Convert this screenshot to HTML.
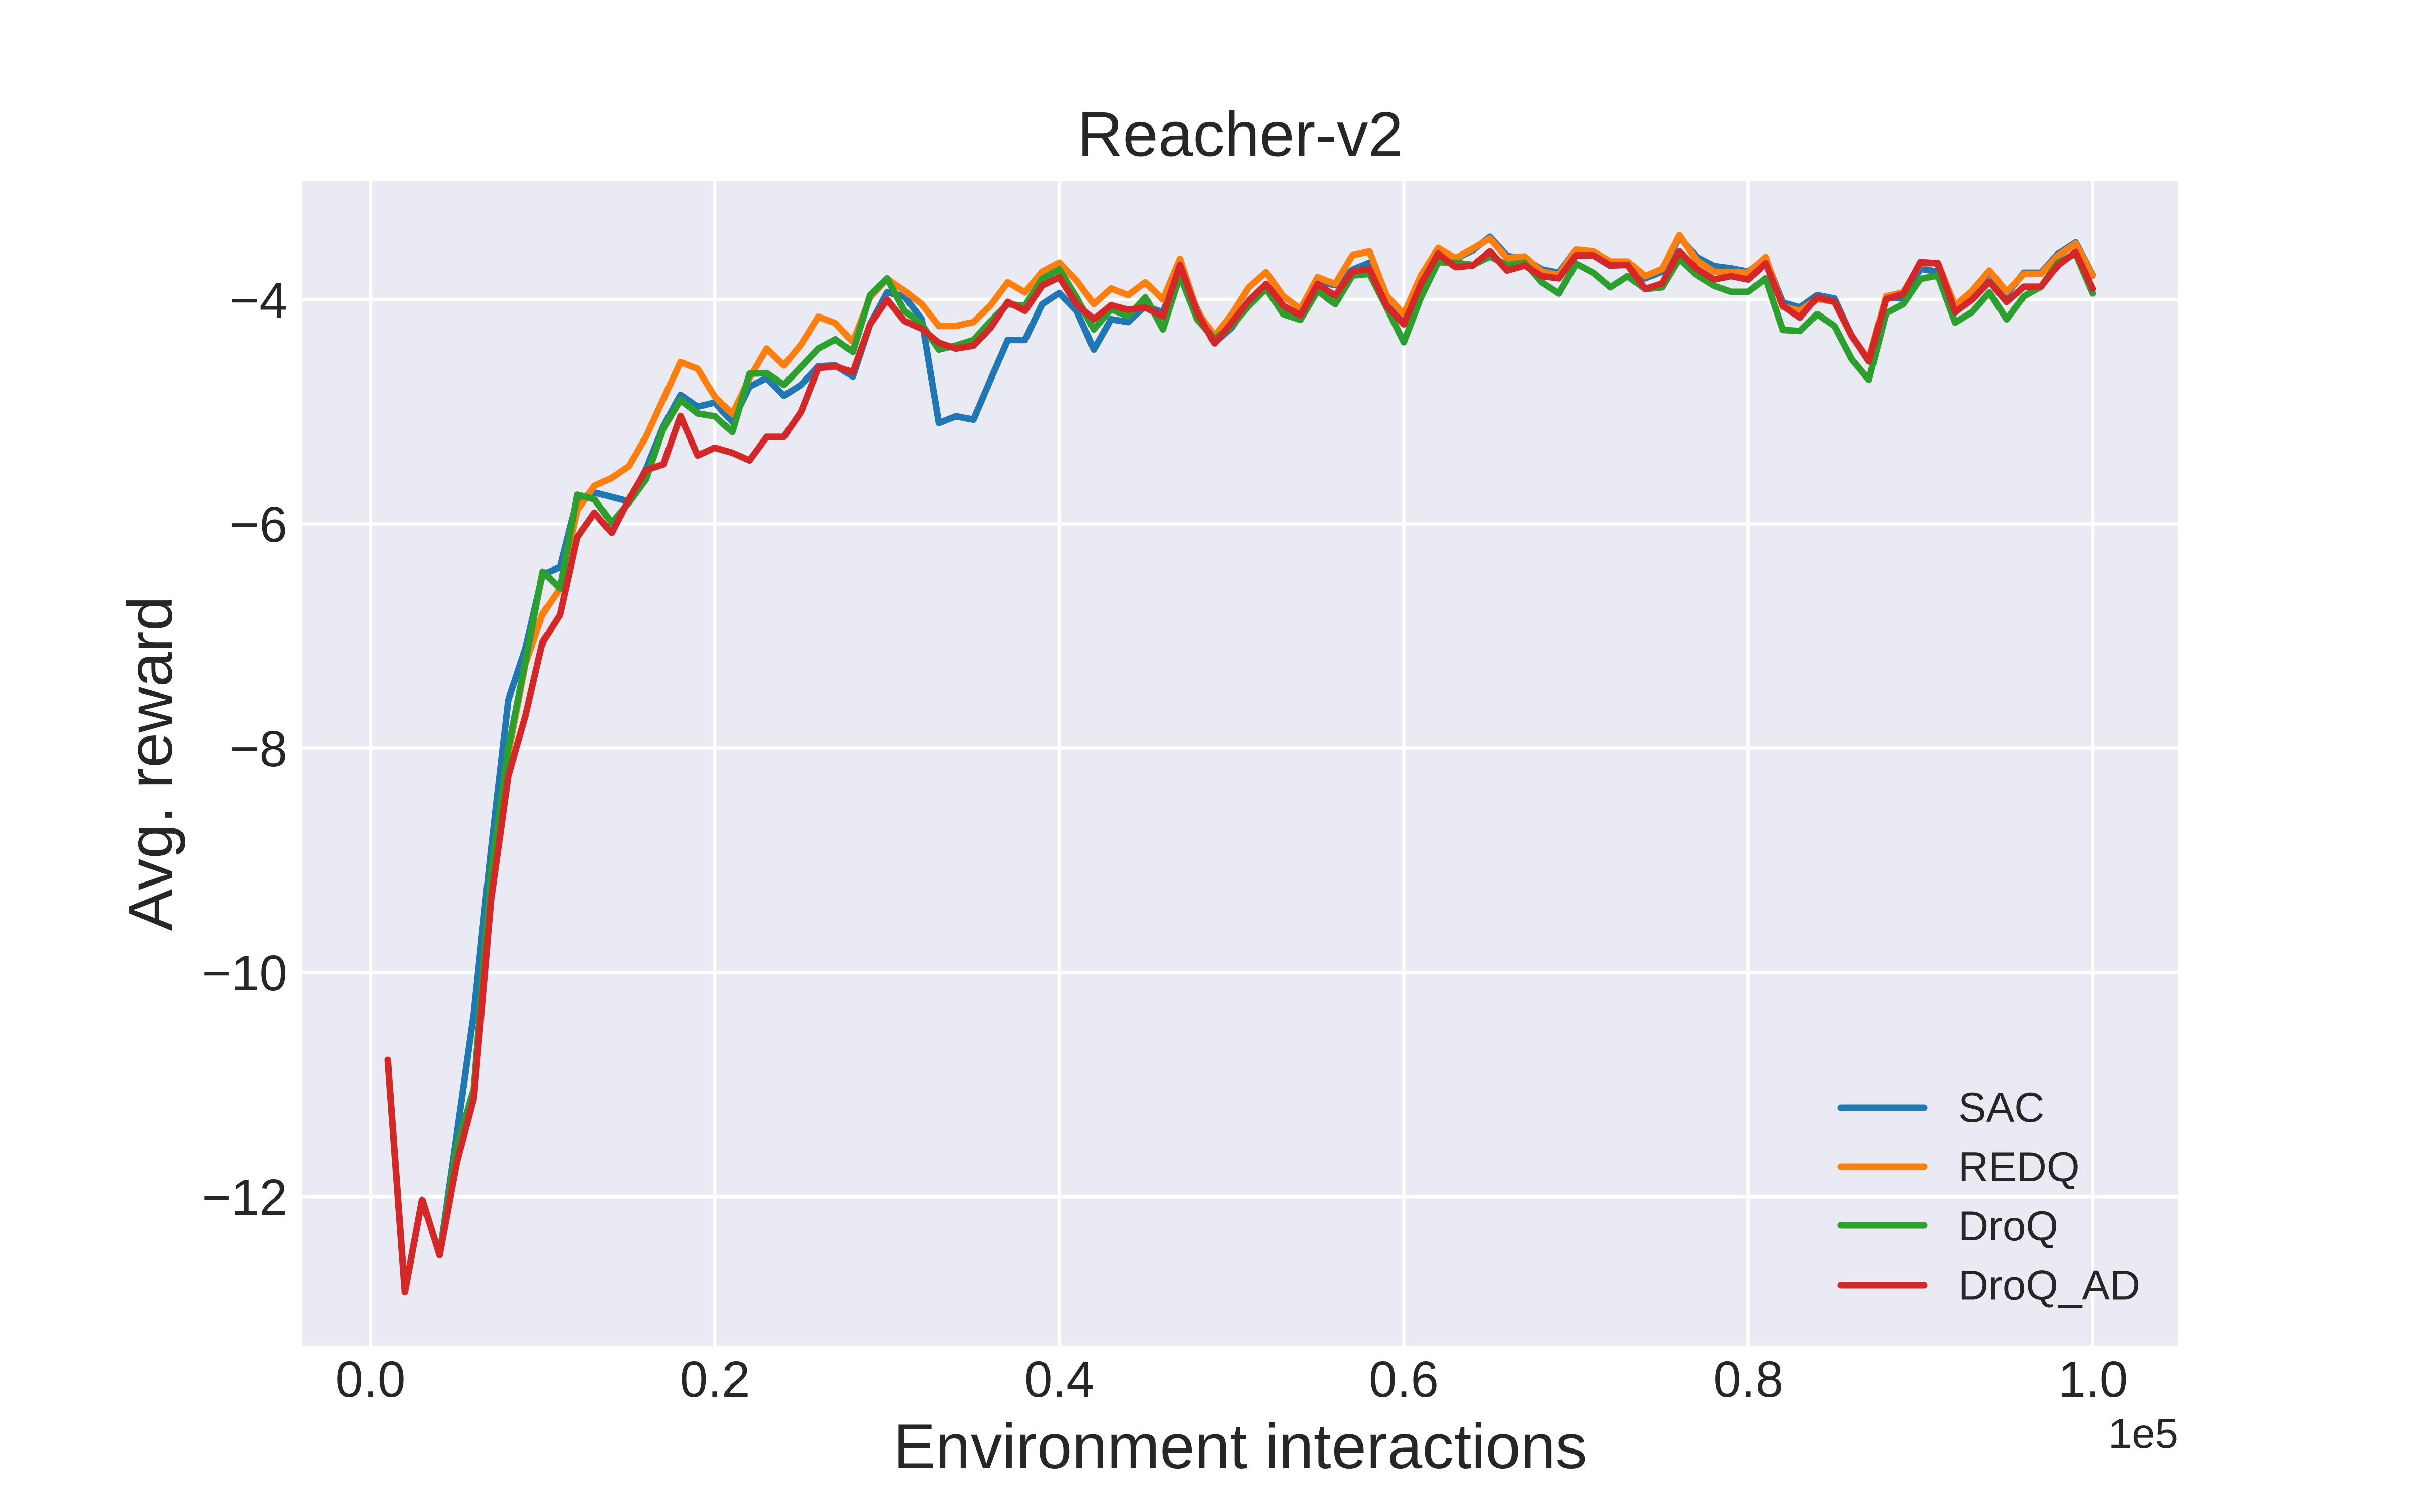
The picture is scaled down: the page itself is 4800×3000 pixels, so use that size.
<!DOCTYPE html>
<html lang="en">
<head>
<meta charset="utf-8">
<title>Reacher-v2</title>
<style>
html,body{margin:0;padding:0;background:#fff;}
svg{display:block;font-family:"Liberation Sans",Arial,sans-serif;fill:#262626;}
</style>
</head>
<body>
<svg id="chart" width="4800" height="3000" viewBox="0 0 4800 3000" xmlns="http://www.w3.org/2000/svg">
  <rect x="0" y="0" width="4800" height="3000" fill="#ffffff"/>
  <rect x="600" y="360" width="3720" height="2310" fill="#EAEAF2"/>
  <g id="grid"></g>
  <g id="series"></g>
  <g id="x-ticks"></g>
  <g id="y-ticks"></g>
  <text x="2460" y="309.5" font-size="125" text-anchor="middle">Reacher-v2</text>
  <text x="2460" y="2913" font-size="125" text-anchor="middle">Environment interactions</text>
  <text transform="translate(341,1515) rotate(-90)" font-size="125" text-anchor="middle">Avg. reward</text>
  <text x="4321" y="2873" font-size="83.33" text-anchor="end">1e5</text>
  <g>
    <line x1="3651" y1="2198" x2="3817" y2="2198" stroke="#1f77b4" stroke-width="13" stroke-linecap="round"/>
    <text x="3884" y="2226" font-size="83.33">SAC</text>
    <line x1="3651" y1="2315" x2="3817" y2="2315" stroke="#ff7f0e" stroke-width="13" stroke-linecap="round"/>
    <text x="3884" y="2344" font-size="83.33">REDQ</text>
    <line x1="3651" y1="2431" x2="3817" y2="2431" stroke="#2ca02c" stroke-width="13" stroke-linecap="round"/>
    <text x="3884" y="2461" font-size="83.33">DroQ</text>
    <line x1="3651" y1="2550" x2="3817" y2="2550" stroke="#d62728" stroke-width="13" stroke-linecap="round"/>
    <text x="3884" y="2578.5" font-size="83.33">DroQ_AD</text>
  </g>
</svg>
<script>
const interactionSteps = [1000,2000,3000,4000,5000,6000,7000,8000,9000,10000,
11000,12000,13000,14000,15000,16000,17000,18000,19000,20000,
21000,22000,23000,24000,25000,26000,27000,28000,29000,30000,
31000,32000,33000,34000,35000,36000,37000,38000,39000,40000,
41000,42000,43000,44000,45000,46000,47000,48000,49000,50000,
51000,52000,53000,54000,55000,56000,57000,58000,59000,60000,
61000,62000,63000,64000,65000,66000,67000,68000,69000,70000,
71000,72000,73000,74000,75000,76000,77000,78000,79000,80000,
81000,82000,83000,84000,85000,86000,87000,88000,89000,90000,
91000,92000,93000,94000,95000,96000,97000,98000,99000,100000];

const sacValues = [-10.78,-12.85,-12.03,-12.52,-11.45,-10.36,-8.9,-7.57,-7.11,-6.45,
-6.385,-5.78,-5.72,-5.76,-5.80,-5.51,-5.13,-4.85,-4.955,-4.917,
-5.09,-4.775,-4.70,-4.857,-4.76,-4.595,-4.587,-4.685,-4.22,-3.935,
-3.97,-4.175,-5.10,-5.04,-5.07,-4.71,-4.36,-4.36,-4.04,-3.94,
-4.10,-4.445,-4.175,-4.20,-4.055,-4.115,-3.70,-4.085,-4.385,-4.25,
-4.025,-3.875,-4.085,-4.145,-3.84,-3.87,-3.733,-3.67,-4.025,-4.175,
-3.80,-3.55,-3.635,-3.56,-3.44,-3.61,-3.635,-3.73,-3.76,-3.555,
-3.605,-3.70,-3.665,-3.81,-3.75,-3.44,-3.62,-3.70,-3.72,-3.75,
-3.635,-4.025,-4.07,-3.96,-3.99,-4.325,-4.54,-3.98,-3.99,-3.725,
-3.75,-4.115,-3.965,-3.75,-3.95,-3.76,-3.76,-3.59,-3.49,-3.78];

const redqValues = [-10.78,-12.85,-12.03,-12.52,-11.56,-11.04,-9.15,-8.05,-7.25,-6.80,
-6.575,-5.88,-5.66,-5.59,-5.485,-5.22,-4.887,-4.557,-4.617,-4.865,
-5.02,-4.70,-4.437,-4.587,-4.40,-4.153,-4.21,-4.378,-3.98,-3.815,
-3.92,-4.04,-4.235,-4.235,-4.20,-4.05,-3.845,-3.935,-3.75,-3.67,
-3.83,-4.04,-3.90,-3.96,-3.845,-4.00,-3.635,-4.10,-4.325,-4.13,
-3.89,-3.755,-3.97,-4.085,-3.80,-3.86,-3.605,-3.57,-3.965,-4.13,
-3.785,-3.54,-3.63,-3.545,-3.455,-3.63,-3.615,-3.75,-3.78,-3.555,
-3.57,-3.66,-3.66,-3.79,-3.725,-3.425,-3.65,-3.75,-3.755,-3.76,
-3.62,-4.063,-4.10,-3.995,-4.02,-4.325,-4.535,-3.97,-3.935,-3.675,
-3.675,-4.055,-3.92,-3.74,-3.93,-3.77,-3.77,-3.605,-3.50,-3.785];

const droqValues = [-10.78,-12.85,-12.03,-12.52,-11.56,-11.04,-9.1,-8.0,-7.23,-6.425,
-6.575,-5.74,-5.78,-5.99,-5.81,-5.60,-5.15,-4.895,-5.015,-5.04,
-5.18,-4.66,-4.655,-4.76,-4.60,-4.437,-4.355,-4.467,-3.96,-3.81,
-4.10,-4.22,-4.445,-4.41,-4.36,-4.19,-4.04,-4.055,-3.815,-3.73,
-3.98,-4.265,-4.085,-4.15,-3.98,-4.265,-3.785,-4.175,-4.35,-4.235,
-4.055,-3.90,-4.13,-4.18,-3.92,-4.04,-3.785,-3.77,-4.07,-4.38,
-3.98,-3.665,-3.67,-3.69,-3.615,-3.69,-3.67,-3.845,-3.945,-3.68,
-3.76,-3.89,-3.79,-3.905,-3.89,-3.635,-3.78,-3.875,-3.93,-3.93,
-3.81,-4.27,-4.28,-4.13,-4.235,-4.53,-4.715,-4.12,-4.04,-3.815,
-3.785,-4.205,-4.11,-3.935,-4.175,-3.97,-3.885,-3.665,-3.59,-3.945];

const droqAdValues = [-10.78,-12.85,-12.03,-12.52,-11.70,-11.12,-9.35,-8.25,-7.71,-7.05,
-6.81,-6.12,-5.90,-6.08,-5.78,-5.52,-5.47,-5.037,-5.39,-5.32,
-5.366,-5.434,-5.224,-5.224,-5.0,-4.61,-4.595,-4.647,-4.22,-4.00,
-4.19,-4.26,-4.385,-4.437,-4.41,-4.25,-4.02,-4.10,-3.875,-3.80,
-4.04,-4.175,-4.05,-4.09,-4.07,-4.15,-3.69,-4.115,-4.39,-4.205,
-4.01,-3.86,-4.055,-4.14,-3.86,-3.965,-3.75,-3.725,-4.055,-4.22,
-3.86,-3.59,-3.71,-3.695,-3.57,-3.74,-3.695,-3.79,-3.81,-3.605,
-3.605,-3.695,-3.69,-3.905,-3.855,-3.57,-3.725,-3.82,-3.79,-3.82,
-3.675,-4.055,-4.16,-3.98,-4.02,-4.32,-4.55,-3.995,-3.95,-3.665,
-3.675,-4.11,-4.00,-3.84,-4.02,-3.885,-3.885,-3.69,-3.575,-3.905];

const xTickValues = [0,20000,40000,60000,80000,100000];
const xTickLabels = ["0.0","0.2","0.4","0.6","0.8","1.0"];
const yTickValues = [-12,-10,-8,-6,-4];
const yTickLabels = ["\u221212","\u221210","\u22128","\u22126","\u22124"];

const SVG_NS = "http://www.w3.org/2000/svg";
const plotLeft = 600, plotRight = 4320, plotTop = 360, plotBottom = 2670;

const xDomainPad = 0.05 * (100000 - 1000);
const xMin = 1000 - xDomainPad, xMax = 100000 + xDomainPad;
const yMin = -13.328, yMax = -2.946;

function xScale(v) { return plotLeft + (v - xMin) / (xMax - xMin) * (plotRight - plotLeft); }
function yScale(v) { return plotBottom - (v - yMin) / (yMax - yMin) * (plotBottom - plotTop); }

const gridGroup = document.getElementById("grid");
const seriesGroup = document.getElementById("series");
const xTickGroup = document.getElementById("x-ticks");
const yTickGroup = document.getElementById("y-ticks");

xTickValues.forEach(function (v, i) {
  const line = document.createElementNS(SVG_NS, "line");
  
  
  line.setAttribute("x1", xScale(v));
  line.setAttribute("x2", xScale(v));
  line.setAttribute("y1", plotTop);
  line.setAttribute("y2", plotBottom);
  line.setAttribute("stroke", "#ffffff");
  line.setAttribute("stroke-width", "6.25");
  gridGroup.appendChild(line);

  const label = document.createElementNS(SVG_NS, "text");
  
  
  label.setAttribute("x", xScale(v));
  label.setAttribute("y", 2771);
  label.setAttribute("font-size", "100");
  label.setAttribute("text-anchor", "middle");
  label.textContent = xTickLabels[i];
  xTickGroup.appendChild(label);
});

yTickValues.forEach(function (v, i) {
  const line = document.createElementNS(SVG_NS, "line");
  
  
  line.setAttribute("x1", plotLeft);
  line.setAttribute("x2", plotRight);
  line.setAttribute("y1", yScale(v));
  line.setAttribute("y2", yScale(v));
  line.setAttribute("stroke", "#ffffff");
  line.setAttribute("stroke-width", "6.25");
  gridGroup.appendChild(line);

  const label = document.createElementNS(SVG_NS, "text");
  
  
  label.setAttribute("x", 570);
  label.setAttribute("y", yScale(v) + 35.5);
  label.setAttribute("font-size", "100");
  label.setAttribute("text-anchor", "end");
  label.textContent = yTickLabels[i];
  yTickGroup.appendChild(label);
});

function drawSeries(values, color, seriesName) {
  const path = document.createElementNS(SVG_NS, "polyline");
  
  
  const pts = values.map(function (v, i) {
    return xScale(interactionSteps[i]).toFixed(2) + "," + yScale(v).toFixed(2);
  });
  path.setAttribute("points", pts.join(" "));
  path.setAttribute("fill", "none");
  path.setAttribute("stroke", color);
  path.setAttribute("stroke-width", "13");
  path.setAttribute("stroke-linecap", "round");
  path.setAttribute("stroke-linejoin", "round");
  seriesGroup.appendChild(path);
}

drawSeries(sacValues, "#1f77b4", "series-sac");
drawSeries(redqValues, "#ff7f0e", "series-redq");
drawSeries(droqValues, "#2ca02c", "series-droq");
drawSeries(droqAdValues, "#d62728", "series-droq-ad");
</script>
</body>
</html>
